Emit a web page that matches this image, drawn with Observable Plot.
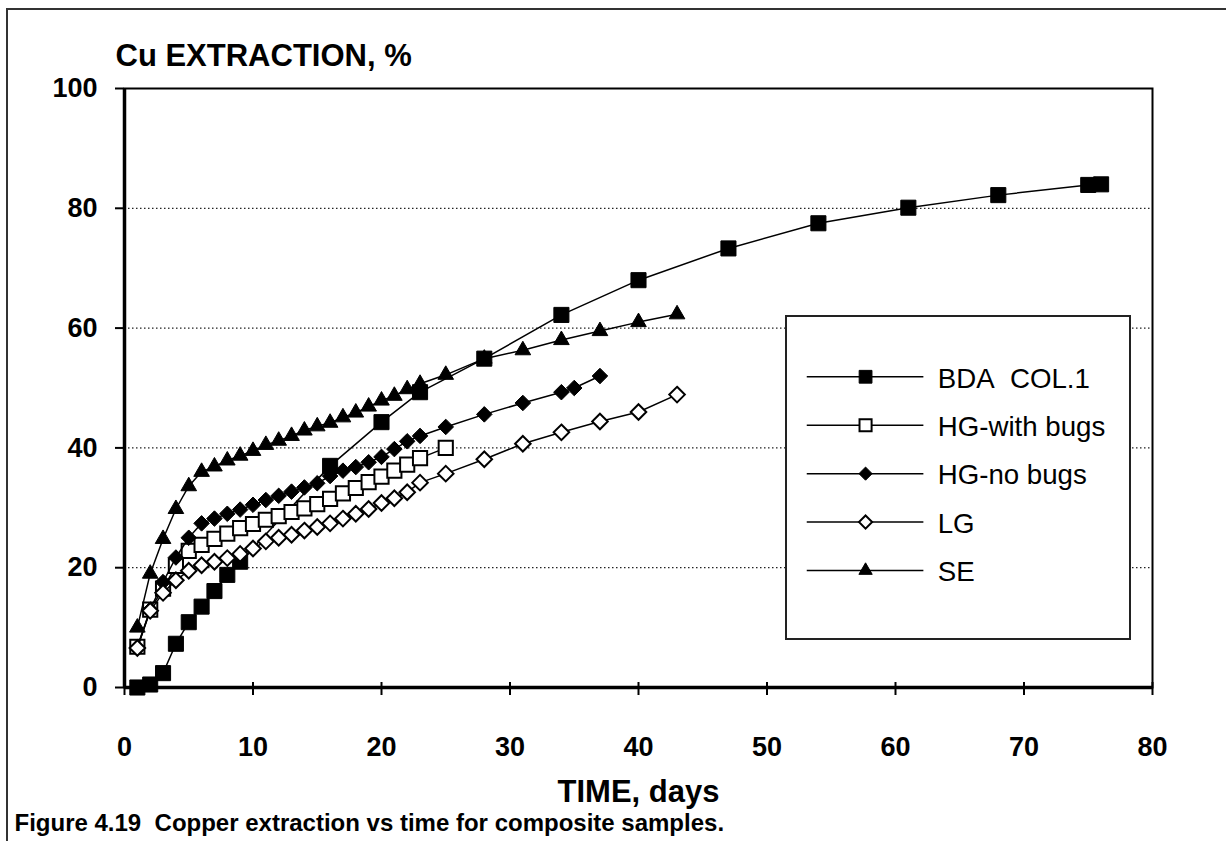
<!DOCTYPE html>
<html><head><meta charset="utf-8">
<script src="https://cdn.jsdelivr.net/npm/d3@7"></script>
<script src="https://cdn.jsdelivr.net/npm/@observablehq/plot@0.6"></script>
<style>
html,body{margin:0;padding:0;background:#fff;}
#fig{position:relative;width:1226px;height:841px;overflow:hidden;background:#fff;}
#chart svg{display:block;}
#border{position:absolute;left:6px;top:8px;width:1300px;height:900px;border-left:2px solid #333;border-top:2px solid #333;pointer-events:none;}
#legend{position:absolute;left:785px;top:315px;width:346px;height:325px;box-sizing:border-box;border:2px solid #222;background:#fff;overflow:hidden;}
#legend svg{position:absolute;left:-2px;top:-2px;display:block;}
</style></head>
<body><div id="fig"><div id="chart"></div><div id="border"></div><div id="legend"></div></div>
<script>
// ---- data ----
const seriesNames = ["BDA\u00a0 COL.1", "HG-with bugs", "HG-no bugs", "LG", "SE"];

const bdaDays = [1,2,3,4,5,6,7,8,9,16,20,23,28,34,40,47,54,61,68,75,76];
const bdaCu   = [0,0.5,2.4,7.3,10.9,13.5,16.1,18.8,21,37,44.3,49.3,54.9,62.2,68,73.3,77.5,80.1,82.2,83.9,84];

const hgWithDays = [1,2,3,4,5,6,7,8,9,10,11,12,13,14,15,16,17,18,19,20,21,22,23,25];
const hgWithCu   = [6.8,13,16.5,20.3,22.8,23.8,24.8,25.7,26.6,27.3,28,28.6,29.3,29.9,30.6,31.5,32.4,33.3,34.3,35.2,36.2,37.2,38.3,40];

const hgNoDays = [1,2,3,4,5,6,7,8,9,10,11,12,13,14,15,16,17,18,19,20,21,22,23,25,28,31,34,35,37];
const hgNoCu   = [6.6,13,17.6,21.7,25,27.4,28.2,29,29.7,30.5,31.3,32,32.7,33.4,34.1,35.3,36.2,36.8,37.6,38.5,39.8,41.1,42,43.5,45.6,47.5,49.3,50,52];

const lgDays = [1,2,3,4,5,6,7,8,9,10,11,12,13,14,15,16,17,18,19,20,21,22,23,25,28,31,34,37,40,43];
const lgCu   = [6.6,12.8,15.8,17.9,19.5,20.4,21,21.6,22.3,23.2,24.4,25,25.5,26.2,26.8,27.4,28.2,29,29.8,30.8,31.6,32.6,34.2,35.7,38.1,40.7,42.6,44.4,46,48.9];

const seDays = [1,2,3,4,5,6,7,8,9,10,11,12,13,14,15,16,17,18,19,20,21,22,23,25,28,31,34,37,40,43];
const seCu   = [10,19,24.8,29.8,33.6,36,36.9,37.9,38.7,39.5,40.5,41.2,42,42.9,43.6,44.2,45.1,45.9,46.9,47.9,48.7,49.8,50.7,52.2,54.9,56.3,58,59.5,61,62.3];

const xTicks = [0,10,20,30,40,50,60,70,80];
const yTicks = [0,20,40,60,80,100];
const yGrid  = [20,40,60,80];

const titleText = "Cu EXTRACTION, %";
const xLabelText = "TIME, days";
const captionText = "Figure 4.19\u00a0 Copper extraction vs time for composite samples.";

// ---- build tables ----
const toRows = (days, vals) => days.map((d, i) => ({day: d, cu: vals[i]}));
const seriesData = [
  toRows(bdaDays, bdaCu),
  toRows(hgWithDays, hgWithCu),
  toRows(hgNoDays, hgNoCu),
  toRows(lgDays, lgCu),
  toRows(seDays, seCu)
];
// marker styles
const styles = [
  {symbol: "square",   fill: "black", stroke: "black", r: 8.5, rl: 7.3, sw: 1},
  {symbol: "square",   fill: "white", stroke: "black", r: 8,   rl: 6.9, sw: 2},
  {symbol: "diamond2", fill: "black", stroke: "black", r: 7,   rl: 6,   sw: 1},
  {symbol: "diamond2", fill: "white", stroke: "black", r: 7,   rl: 6,   sw: 2},
  {symbol: "triangle", fill: "black", stroke: "black", r: 5.8, rl: 5,   sw: 1}
];

const FONT = "'Liberation Sans', Arial, Helvetica, sans-serif";

const seriesMarks = [];
seriesData.forEach((rows, i) => {
  const s = styles[i];
  seriesMarks.push(Plot.line(rows, {x: "day", y: "cu", stroke: "black", strokeWidth: 1.5}));
  seriesMarks.push(Plot.dot(rows, {x: "day", y: "cu", symbol: s.symbol, fill: s.fill, stroke: s.stroke, strokeWidth: s.sw, r: s.r}));
});

const chart = Plot.plot({
  width: 1226, height: 841,
  marginLeft: 124, marginRight: 74, marginTop: 88, marginBottom: 154,
  x: {domain: [0, 80]},
  y: {domain: [0, 100]},
  style: {fontFamily: FONT, background: "white", color: "black"},
  marks: [
    Plot.ruleY(yGrid, {stroke: "#222", strokeWidth: 1.2, strokeDasharray: "1.5 2.5"}),
    Plot.frame({stroke: "black", strokeWidth: 2}),
    Plot.ruleX([0], {stroke: "black", strokeWidth: 3.5}),
    Plot.ruleY([0], {stroke: "black", strokeWidth: 3.5}),
    Plot.axisY({ticks: yTicks, tickSize: 9, tickPadding: 18, strokeWidth: 2, fontSize: 27, fontWeight: "bold", fill: "black", label: null}),
    Plot.axisX({ticks: xTicks, tickSize: 13, dy: -5, strokeWidth: 2, tickFormat: () => "", label: null}),
    Plot.axisX({ticks: xTicks, tickSize: 0, tickPadding: 49, fontSize: 27, fontWeight: "bold", fill: "black", label: null}),
    ...seriesMarks,
    Plot.text([titleText], {frameAnchor: "top-left", dx: -9, dy: -45, lineAnchor: "top", textAnchor: "start", fontSize: 31, fontWeight: "bold", fill: "black"}),
    Plot.text([xLabelText], {frameAnchor: "bottom", dy: 92, lineAnchor: "top", fontSize: 31, fontWeight: "bold", fill: "black"}),
    Plot.text([captionText], {frameAnchor: "bottom-left", dx: -110, dy: 126, lineAnchor: "top", textAnchor: "start", fontSize: 24, fontWeight: "bold", fill: "black"})
  ]
});
document.getElementById("chart").appendChild(chart);

// ---- legend (separate small Plot) ----
const legendMarks = [
  Plot.ruleY(seriesNames, {y: d => d, x1: 0, x2: 1, stroke: "black", strokeWidth: 1.5})
];
seriesNames.forEach((name, i) => {
  const s = styles[i];
  legendMarks.push(Plot.dot([name], {x: 0.5, y: d => d, symbol: s.symbol, fill: s.fill, stroke: s.stroke, strokeWidth: s.sw, r: s.rl}));
});
legendMarks.push(Plot.text(seriesNames, {x: 1, y: d => d, dx: 14, dy: 2, textAnchor: "start", fontSize: 28, fill: "black"}));

const legend = Plot.plot({
  width: 346, height: 325, margin: 0,
  x: {domain: [0, 1], range: [22, 140], axis: null},
  y: {type: "point", domain: seriesNames, range: [36, 284], axis: null},
  style: {fontFamily: FONT, background: "transparent", color: "black"},
  marks: legendMarks
});
document.getElementById("legend").appendChild(legend);
</script>
</body></html>
